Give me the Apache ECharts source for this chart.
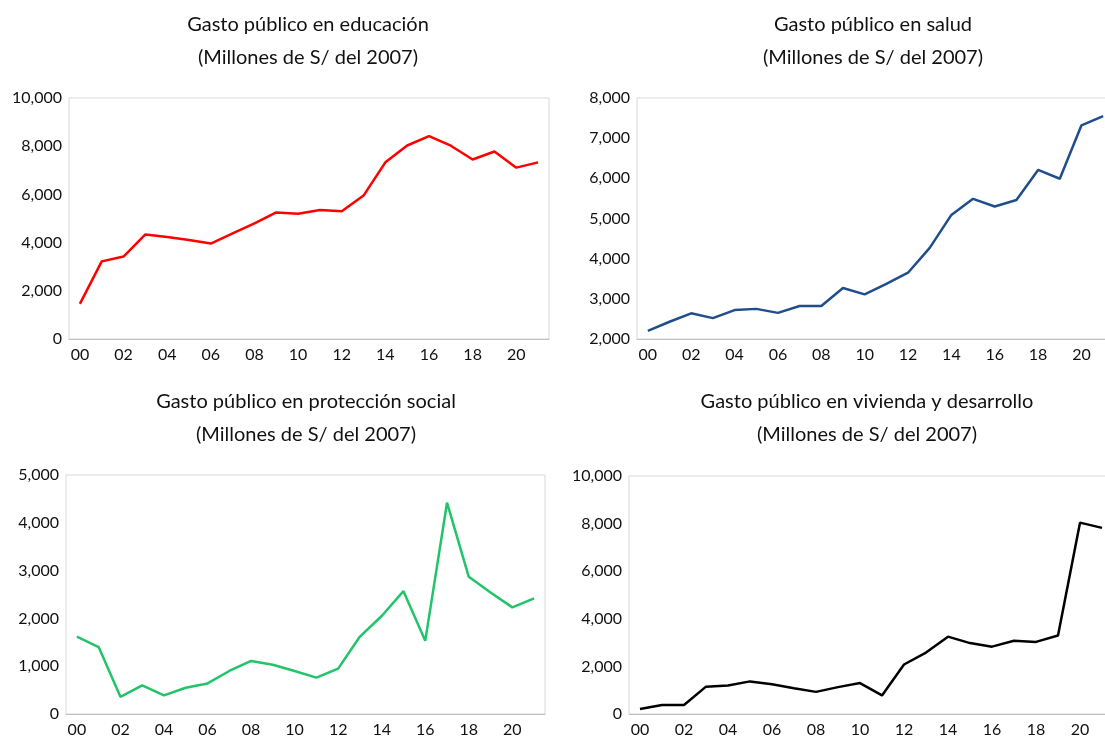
<!DOCTYPE html>
<html><head><meta charset="utf-8">
<script src="https://cdn.jsdelivr.net/npm/echarts@6/dist/echarts.min.js"></script>
<style>html,body{margin:0;padding:0;background:#fff}#c{width:1105px;height:738px}</style>
</head><body><div id="c"></div>
<script>
const years = ['00','01','02','03','04','05','06','07','08','09','10','11','12','13','14','15','16','17','18','19','20','21'];
const educacion = [1460,3220,3420,4340,4230,4110,3960,4380,4800,5250,5200,5350,5300,5950,7330,8030,8420,8020,7450,7780,7110,7330];
const salud = [2200,2430,2640,2520,2720,2750,2650,2820,2820,3270,3110,3370,3650,4270,5090,5490,5300,5460,6210,5990,7320,7550];
const proteccion = [1620,1400,360,600,390,550,640,900,1110,1030,900,760,950,1620,2050,2570,1530,4420,2870,2540,2230,2420];
const vivienda = [210,380,380,1150,1200,1370,1250,1080,930,1130,1300,780,2080,2580,3250,2980,2830,3080,3030,3300,8040,7820];
const titles = ['Gasto público en educación','Gasto público en salud','Gasto público en protección social','Gasto público en vivienda y desarrollo'];
const subtitle = '(Millones de S/ del 2007)';
const yMin = [0,2000,0,0];
const yMax = [10000,8000,5000,10000];
const yStep = [2000,1000,1000,2000];

const seriesData = [educacion, salud, proteccion, vivienda];
const colors = ['#ff0000','#1f4e8a','#22c46a','#000000'];
const grids = [
  {left:69, top:98, width:480, height:241},
  {left:637, top:98, width:477, height:241},
  {left:66, top:475, width:479, height:239},
  {left:629, top:476, width:484, height:238}
];
const titlePos = [{x:308,y:8},{x:873,y:8},{x:306,y:385},{x:867,y:385}];
const FONT = 'Lato, "Open Sans", sans-serif';

const chart = echarts.init(document.getElementById('c'));
const option = {
  animation:false,
  backgroundColor:'#fff',
  title: titles.map((t,i)=>({
    text: t + '\n' + subtitle,
    left: titlePos[i].x, top: titlePos[i].y, textAlign:'center', padding:0,
    textStyle:{fontFamily:FONT, fontSize:20, fontWeight:'normal', color:'#111', lineHeight:33}
  })),
  grid: grids.map(g=>Object.assign({show:true, borderColor:'#d9d9d9', borderWidth:1, containLabel:false, outerBoundsMode:'none'}, g)),
  xAxis: grids.map((g,i)=>({
    type:'category', gridIndex:i, data:years, boundaryGap:true,
    axisLine:{show:true, lineStyle:{color:'#bfbfbf', width:1}},
    axisTick:{show:false},
    axisLabel:{interval:1, margin:8, fontFamily:FONT, fontSize:16, color:'#111'}
  })),
  yAxis: grids.map((g,i)=>({
    type:'value', gridIndex:i, min:yMin[i], max:yMax[i], interval:yStep[i],
    axisLine:{show:false}, axisTick:{show:false}, splitLine:{show:false},
    axisLabel:{margin:7, fontFamily:FONT, fontSize:16, color:'#111',
      formatter:v=>v.toLocaleString('en-US')}
  })),
  series: seriesData.map((d,i)=>({
    type:'line', xAxisIndex:i, yAxisIndex:i, data:d, symbol:'none',
    lineStyle:{color:colors[i], width:2.5}, itemStyle:{color:colors[i]}
  }))
};
chart.setOption(option);
</script>
</body></html>
